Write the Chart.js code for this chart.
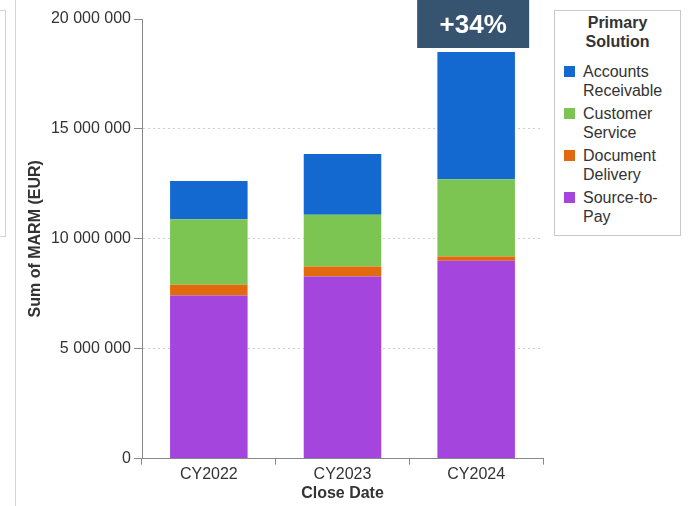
<!DOCTYPE html>
<html><head><meta charset="utf-8">
<script src="https://cdn.jsdelivr.net/npm/chart.js@4.4.0/dist/chart.umd.min.js"></script>
<style>
html,body{margin:0;padding:0;background:#fff;}
#wrap{position:relative;width:695px;height:506px;overflow:hidden;font-family:"Liberation Sans",Arial,sans-serif;}
#c{position:absolute;left:0;top:0;}
#legend{position:absolute;left:554px;top:10px;width:125px;height:224px;border:1px solid #c8c8c8;background:#fff;color:#333;font-size:16px;}
#legend .t{font-weight:bold;text-align:center;line-height:19px;margin-top:2px;font-size:16px;}
#legend .it{position:relative;padding-left:28px;line-height:19px;margin-top:4px;white-space:nowrap;}
#legend .sw{position:absolute;left:9px;top:4px;width:11px;height:11px;}
.lp{position:absolute;left:0;top:10px;width:5px;height:225px;border:1px solid #d4d4d4;border-left:none;}
.vl{position:absolute;left:15px;top:0;width:1px;height:506px;background:#d4d4d4;}
</style></head>
<body><div id="wrap">
<div class="lp"></div><div class="vl"></div>
<canvas id="c" width="695" height="506"></canvas>
<div id="legend"></div>
</div>
<script>
const categories = ["CY2022","CY2023","CY2024"];
const accountsReceivable = [1740000, 2770000, 5790000];
const customerService   = [2980000, 2350000, 3510000];
const documentDelivery  = [490000, 450000, 200000];
const sourceToPay       = [7420000, 8290000, 9000000];
const yTicks = [0, 5000000, 10000000, 15000000, 20000000];
const legendTitle = "Primary Solution";
const growthLabel = "+34%";
const yTitle = "Sum of MARM (EUR)";
const xTitle = "Close Date";

const colors = {ar:"#1369cf", cs:"#7cc552", dd:"#e2690d", sp:"#a445dd"};
const datasets = [
  {label:"Source-to-Pay", data:sourceToPay, backgroundColor:colors.sp},
  {label:"Document Delivery", data:documentDelivery, backgroundColor:colors.dd},
  {label:"Customer Service", data:customerService, backgroundColor:colors.cs},
  {label:"Accounts Receivable", data:accountsReceivable, backgroundColor:colors.ar}
];
const legendLines = {"Accounts Receivable":"Accounts<br>Receivable","Customer Service":"Customer<br>Service","Document Delivery":"Document<br>Delivery","Source-to-Pay":"Source-to-<br>Pay"};

const lg = document.getElementById('legend');
let h = '<div class="t">' + legendTitle.replace(' ', '<br>') + '</div><div style="height:7px"></div>';
datasets.slice().reverse().forEach(d=>{
  h += '<div class="it"><span class="sw" style="background:'+d.backgroundColor+'"></span>'+legendLines[d.label]+'</div>';
});
lg.innerHTML = h;

const fmt = v => String(v).replace(/\B(?=(\d{3})+(?!\d))/g, ' ');
const F = '"Liberation Sans", Arial, sans-serif';

const badge = {
  id:'badge',
  afterDraw(chart){
    const x = chart.scales.x.getPixelForValue(2) - 59;
    const ctx = chart.ctx;
    ctx.save();
    ctx.fillStyle = '#36536f';
    ctx.fillRect(x, 0, 112, 48);
    ctx.fillStyle = '#fff';
    ctx.font = 'bold 26px ' + F;
    ctx.textAlign = 'center';
    ctx.textBaseline = 'middle';
    ctx.fillText(growthLabel, x+56, 26);
    ctx.restore();
  }
};

new Chart(document.getElementById('c'), {
  type:'bar',
  data:{labels:categories, datasets:datasets},
  options:{
    responsive:false, animation:false,
    layout:{padding:{top:19, right:152, bottom:0, left:0}},
    plugins:{legend:{display:false}, tooltip:{enabled:false}},
    datasets:{bar:{categoryPercentage:1, barPercentage:0.58}},
    scales:{
      x:{stacked:true,
        grid:{offset:true, drawOnChartArea:false, drawTicks:true, tickLength:6, tickColor:'#888', color:'#888'},
        border:{color:'#888', width:1},
        ticks:{color:'#333', font:{size:16, family:F}, padding:0},
        title:{display:true, text:xTitle, color:'#333', font:{size:16, weight:'bold', family:F}, padding:{top:0,bottom:3}}
      },
      y:{stacked:true, min:0, max:20000000,
        afterFit(s){ s.width = 142; },
        afterBuildTicks(s){ s.ticks = yTicks.map(v=>({value:v})); },
        grid:{color:(c)=> (c.tick && (c.tick.value===0 || c.tick.value===20000000)) ? 'rgba(0,0,0,0)' : '#cfcfcf',
              tickColor:'#888', tickBorderDash:[], tickLength:8, drawTicks:true},
        border:{color:'#888', width:1, dash:[2,3]},
        ticks:{color:'#333', padding:3, font:{size:16, family:F}, callback:v=>fmt(v)},
        title:{display:true, text:yTitle, color:'#333', font:{size:16, weight:'bold', family:F}, padding:{top:26,bottom:0}}
      }
    }
  },
  plugins:[badge]
});
</script>
</body></html>
